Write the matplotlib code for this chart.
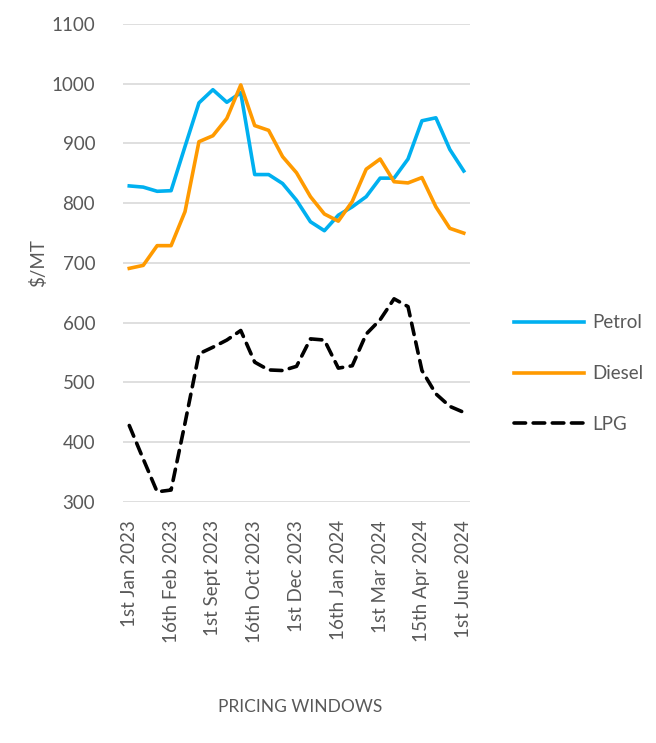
import numpy as np
import matplotlib
matplotlib.use("Agg")
import matplotlib.pyplot as plt

plt.rcParams['font.family'] = ['Lato', 'DejaVu Sans']

# pricing windows (25 of them), only every third one is labelled
tick_labels = ["1st Jan 2023", "16th Feb 2023", "1st Sept 2023", "16th Oct 2023",
               "1st Dec 2023", "16th Jan 2024", "1st Mar 2024", "15th Apr 2024",
               "1st June 2024"]

petrol = [829, 827, 820, 821, 895, 968, 990, 969, 985, 848, 848, 833, 805,
          769, 754, 780, 794, 811, 842, 842, 874, 938, 943, 890, 854]
diesel = [691, 696, 729, 729, 786, 903, 913, 942, 998, 930, 922, 878, 851,
          811, 782, 770, 803, 857, 874, 836, 834, 843, 794, 758, 750]
lpg = [428, 372, 317, 320, 432, 548, 559, 571, 587, 534, 521, 520, 527,
       573, 571, 524, 528, 581, 605, 640, 627, 520, 481, 460, 450]

x = np.arange(len(petrol))
grey = '#595959'

fig = plt.figure(figsize=(6.56, 7.43), dpi=100)
ax = fig.add_axes([0.1875, 0.3244, 0.529, 0.6433])

ax.plot(x, petrol, color='#00B0F0', lw=2.6, label='Petrol', solid_joinstyle='round')
ax.plot(x, diesel, color='#FF9A00', lw=2.6, label='Diesel', solid_joinstyle='round')
ax.plot(x, lpg, color='black', lw=2.6, ls=(0, (3.2, 2.1)), dash_capstyle='round',
        label='LPG')

ax.set_ylim(300, 1100)
ax.set_xlim(-0.45, len(x) - 1 + 0.45)
ax.set_yticks(np.arange(300, 1101, 100))
ax.set_xticks(x[::3])
ax.set_xticklabels(tick_labels, rotation=90, va='top', ha='center')

ax.grid(axis='y', color='#d9d9d9', lw=1.2)
ax.set_axisbelow(True)
for s in ax.spines.values():
    s.set_visible(False)
ax.tick_params(length=0, labelsize=13.5, labelcolor=grey)
ax.tick_params(axis='y', pad=20)
ax.tick_params(axis='x', pad=13)

ax.set_ylabel('$/MT', fontsize=13.5, color=grey, labelpad=3)
fig.text(0.457, 0.049, 'PRICING WINDOWS', ha='center', va='center',
         fontsize=12.5, color=grey)

leg = fig.legend(loc='center left', bbox_to_anchor=(0.77, 0.497), frameon=False,
                 fontsize=13.5, handlelength=3.7, handletextpad=0.45,
                 labelspacing=1.8, borderpad=0)
for t in leg.get_texts():
    t.set_color(grey)

fig.savefig('out.png', dpi=100)
